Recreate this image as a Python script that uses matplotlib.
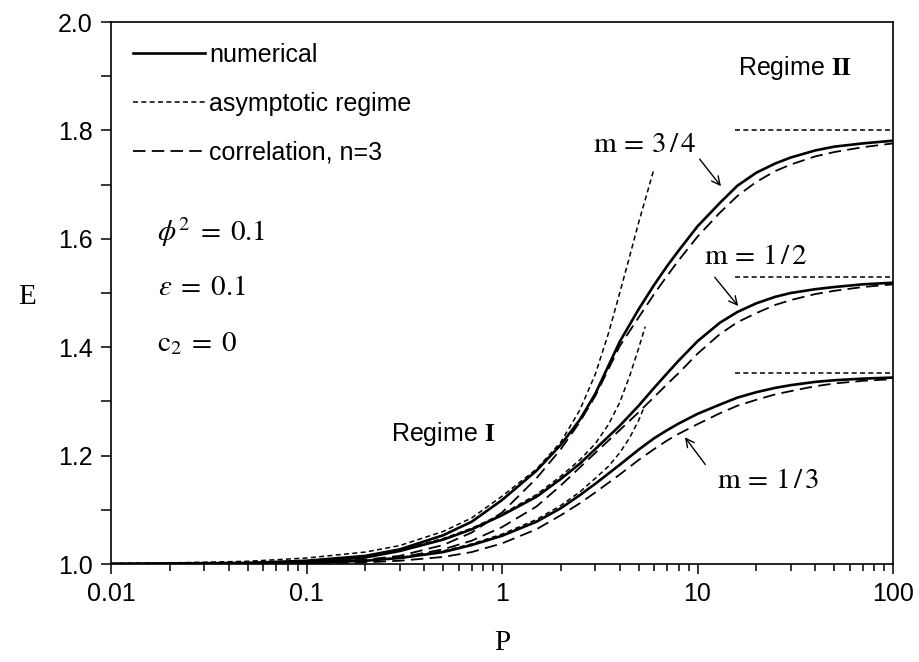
import numpy as np
import matplotlib.pyplot as plt

plt.rcParams['font.family'] = ['Liberation Sans', 'DejaVu Sans']
plt.rcParams['mathtext.fontset'] = 'stix'
plt.rcParams['lines.scale_dashes'] = False

# P grid for numerical and correlation curves
P = [0.01, 0.02, 0.05, 0.1, 0.2, 0.3, 0.5, 0.7, 1, 1.5, 2, 2.5, 3, 4, 5, 6, 7, 8,
     10, 13, 16, 20, 25, 30, 40, 50, 70, 100]

num_34 = [1.000, 1.001, 1.002, 1.006, 1.015, 1.027, 1.053, 1.078, 1.118, 1.172, 1.220, 1.266,
          1.314, 1.410, 1.470, 1.515, 1.550, 1.578, 1.623, 1.666, 1.698, 1.722, 1.739, 1.750,
          1.763, 1.770, 1.776, 1.781]
num_12 = [1.000, 1.000, 1.001, 1.004, 1.012, 1.024, 1.045, 1.064, 1.090, 1.124, 1.157, 1.185,
          1.212, 1.255, 1.292, 1.325, 1.352, 1.375, 1.411, 1.445, 1.465, 1.481, 1.493, 1.500,
          1.507, 1.511, 1.516, 1.519]
num_13 = [1.000, 1.000, 1.000, 1.002, 1.006, 1.011, 1.022, 1.035, 1.052, 1.078, 1.103, 1.127,
          1.148, 1.183, 1.211, 1.232, 1.247, 1.259, 1.277, 1.294, 1.307, 1.317, 1.325, 1.330,
          1.336, 1.339, 1.342, 1.344]

cor_34 = [1.000, 1.000, 1.001, 1.003, 1.008, 1.015, 1.035, 1.058, 1.095, 1.158, 1.212, 1.262,
          1.310, 1.402, 1.455, 1.498, 1.532, 1.560, 1.604, 1.648, 1.679, 1.705, 1.725, 1.737,
          1.752, 1.760, 1.769, 1.776]
cor_12 = [1.000, 1.000, 1.000, 1.002, 1.006, 1.012, 1.027, 1.043, 1.068, 1.106, 1.145, 1.178,
          1.205, 1.247, 1.280, 1.308, 1.332, 1.352, 1.388, 1.424, 1.446, 1.463, 1.478, 1.487,
          1.498, 1.504, 1.511, 1.516]
cor_13 = [1.000, 1.000, 1.000, 1.001, 1.003, 1.006, 1.013, 1.022, 1.038, 1.064, 1.090, 1.112,
          1.132, 1.165, 1.192, 1.212, 1.228, 1.240, 1.258, 1.278, 1.292, 1.303, 1.313, 1.319,
          1.328, 1.333, 1.338, 1.341]

# regime I asymptotes (small P)
P_asym34 = [0.01, 0.02, 0.05, 0.1, 0.2, 0.3, 0.5, 0.7, 1, 1.5, 2, 2.5, 3, 3.5, 4, 4.5, 5, 5.5, 6]
asym_34 = [1.001, 1.002, 1.005, 1.011, 1.022, 1.034, 1.060, 1.085, 1.125, 1.175, 1.225, 1.284,
           1.350, 1.425, 1.500, 1.568, 1.630, 1.682, 1.730]
P_asym12 = [0.01, 0.02, 0.05, 0.1, 0.2, 0.3, 0.5, 0.7, 1, 1.5, 2, 2.5, 3, 3.5, 4, 4.5, 5, 5.4]
asym_12 = [1.000, 1.001, 1.003, 1.006, 1.014, 1.026, 1.047, 1.066, 1.092, 1.128, 1.162, 1.192,
           1.222, 1.257, 1.298, 1.347, 1.398, 1.438]
P_asym13 = [0.01, 0.02, 0.05, 0.1, 0.2, 0.3, 0.5, 0.7, 1, 1.5, 2, 2.5, 3, 3.5, 4, 4.5, 5, 5.3]
asym_13 = [1.000, 1.000, 1.001, 1.003, 1.007, 1.012, 1.024, 1.037, 1.055, 1.082, 1.108, 1.133,
           1.158, 1.180, 1.205, 1.233, 1.265, 1.287]

# regime II asymptotes (large P)
P_plateau = [15.5, 100]
plateau_values = [1.80, 1.53, 1.353]

x_ticks = [0.01, 0.1, 1, 10, 100]
x_tick_labels = ['0.01', '0.1', '1', '10', '100']
y_ticks = [1.0, 1.2, 1.4, 1.6, 1.8, 2.0]

dotted = (0, (3.6, 2.4))
dashed = (0, (9, 4.5))

fig = plt.figure(figsize=(9.19, 6.62), dpi=100)
ax = fig.add_axes([111 / 919, 98 / 662, 782 / 919, 542 / 662])

for i, (num, cor) in enumerate([(num_34, cor_34), (num_12, cor_12), (num_13, cor_13)]):
    ax.plot(P, num, color='black', lw=1.9, label='numerical' if i == 0 else None, zorder=3)
    ax.plot(P, cor, color='black', lw=1.3, linestyle=dashed,
            label='correlation, n=3' if i == 0 else None, zorder=2)

for i, (pa, ea) in enumerate([(P_asym34, asym_34), (P_asym12, asym_12), (P_asym13, asym_13)]):
    ax.plot(pa, ea, color='black', lw=1.1, linestyle=dotted,
            label='asymptotic regime' if i == 0 else None, zorder=2)

for val in plateau_values:
    ax.plot(P_plateau, [val, val], color='black', lw=1.1, linestyle=dotted, zorder=2)

ax.set_xscale('log')
ax.set_xlim(0.01, 100)
ax.set_ylim(1.0, 2.0)
ax.set_xticks(x_ticks)
ax.set_xticklabels(x_tick_labels)
ax.set_yticks(y_ticks)
ax.set_yticklabels([f'{v:.1f}' for v in y_ticks])
ax.set_yticks(np.arange(1.1, 2.0, 0.2), minor=True)
ax.tick_params(axis='both', which='major', direction='out', length=7, width=1.1,
               labelsize=18, pad=6)
ax.tick_params(axis='y', which='minor', direction='out', length=7, width=1.1)
ax.tick_params(axis='x', which='minor', direction='out', length=5, width=1.1)
for sp in ax.spines.values():
    sp.set_linewidth(1.2)

ax.set_xlabel('P', fontfamily='Liberation Serif', fontsize=21)
ax.set_ylabel('E', fontfamily='Liberation Serif', fontsize=21, rotation=0, va='center')
ax.xaxis.set_label_coords(0.5, -0.122)
ax.yaxis.set_label_coords(-0.107, 0.493)

handles, labels = ax.get_legend_handles_labels()
order = [labels.index('numerical'), labels.index('asymptotic regime'),
         labels.index('correlation, n=3')]
ax.legend([handles[i] for i in order], [labels[i] for i in order], loc='upper left',
          bbox_to_anchor=(0.028, 0.962), frameon=False, fontsize=18, handlelength=2.9,
          handletextpad=0.15, labelspacing=1.0, borderpad=0, borderaxespad=0)

ax.text(0.0588, 0.6125, r'$\phi^2\;=\;0.1$', transform=ax.transAxes, fontsize=21,
        ha='left', va='center')
ax.text(0.060, 0.511, r'$\varepsilon\;=\;0.1$', transform=ax.transAxes, fontsize=21,
        ha='left', va='center')
ax.text(0.0588, 0.408, r'$\mathrm{c}_2\;=\;0$', transform=ax.transAxes, fontsize=21,
        ha='left', va='center')

ax.text(0.875, 0.915, r'Regime $\mathbf{II}$', transform=ax.transAxes, fontsize=18,
        ha='center', va='center')
ax.text(0.4246, 0.240, r'Regime $\mathbf{I}$', transform=ax.transAxes, fontsize=18,
        ha='center', va='center')

arrow = dict(arrowstyle='->,head_length=0.6,head_width=0.3', lw=1.0, color='black')
ax.annotate(r'$\mathrm{m}\,=\,3\,/\,4$', xy=(0.7822, 0.693), xytext=(0.683, 0.775),
            xycoords='axes fraction', textcoords='axes fraction', fontsize=21,
            ha='center', va='center')
ax.annotate('', xy=(0.7822, 0.693), xytext=(0.7506, 0.751), xycoords='axes fraction',
            textcoords='axes fraction', arrowprops=arrow)
ax.annotate(r'$\mathrm{m}\,=\,1\,/\,2$', xy=(0.8043, 0.472), xytext=(0.825, 0.568),
            xycoords='axes fraction', textcoords='axes fraction', fontsize=21,
            ha='center', va='center')
ax.annotate('', xy=(0.8043, 0.472), xytext=(0.7698, 0.533), xycoords='axes fraction',
            textcoords='axes fraction', arrowprops=arrow)
ax.annotate(r'$\mathrm{m}\,=\,1\,/\,3$', xy=(0.7318, 0.238), xytext=(0.840, 0.155),
            xycoords='axes fraction', textcoords='axes fraction', fontsize=21,
            ha='center', va='center')
ax.annotate('', xy=(0.7318, 0.238), xytext=(0.7621, 0.1795), xycoords='axes fraction',
            textcoords='axes fraction', arrowprops=arrow)

fig.savefig('out.png', dpi=100)
